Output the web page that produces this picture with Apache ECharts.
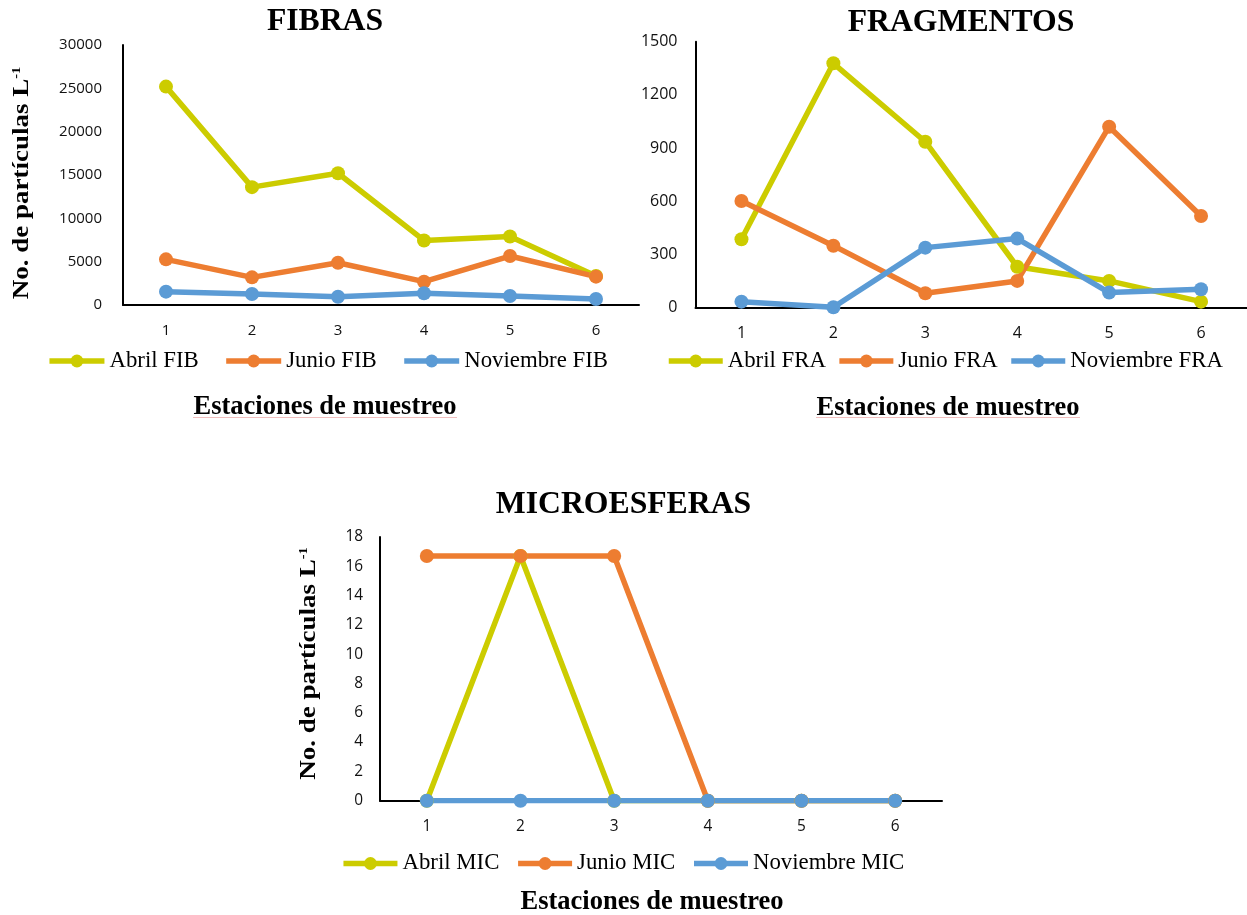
<!DOCTYPE html>
<html>
<head>
<meta charset="utf-8">
<title>Partículas por estación de muestreo</title>
<script src="https://cdn.jsdelivr.net/npm/echarts@6/dist/echarts.min.js"></script>
<style>
  html, body { margin: 0; padding: 0; background: #ffffff; }
  #chart { width: 1247px; height: 915px; }
</style>
</head>
<body>
<div id="chart"></div>
<script>
// Estaciones de muestreo (eje X compartido)
const stations = ['1', '2', '3', '4', '5', '6'];

// Fibras (partículas L-1)
const fibAbril = [25200, 13600, 15200, 7450, 7900, 3350];
const fibJunio = [5270, 3190, 4880, 2690, 5650, 3270];
const fibNoviembre = [1540, 1270, 960, 1350, 1040, 690];

// Fragmentos (partículas L-1)
const fraAbril = [384, 1378, 935, 229, 149, 32];
const fraJunio = [600, 348, 79, 149, 1020, 516];
const fraNoviembre = [32, 0, 337, 388, 83, 102];

// Microesferas (partículas L-1)
const micAbril = [0, 16.7, 0, 0, 0, 0];
const micJunio = [16.7, 16.7, 16.7, 0, 0, 0];
const micNoviembre = [0, 0, 0, 0, 0, 0];

// Nombres de las series
const fibNames = ['Abril FIB', 'Junio FIB', 'Noviembre FIB'];
const fraNames = ['Abril FRA', 'Junio FRA', 'Noviembre FRA'];
const micNames = ['Abril MIC', 'Junio MIC', 'Noviembre MIC'];

// Escalas del eje Y
const fibScale = { min: 0, max: 30000, interval: 5000 };
const fraScale = { min: 0, max: 1500, interval: 300 };
const micScale = { min: 0, max: 18, interval: 2 };

const titles = ['FIBRAS', 'FRAGMENTOS', 'MICROESFERAS'];
const xTitle = 'Estaciones de muestreo';

const monthColors = ['#CCCC00', '#ED7D31', '#5B9BD5'];
const SERIF = '"Liberation Serif", "Times New Roman", serif';
const SANS = '"Open Sans", "Liberation Sans", sans-serif';
const LINE_W = 5.5;

function lineSeries(name, data, color, axisIndex) {
  return {
    type: 'line',
    name: name,
    data: data,
    xAxisIndex: axisIndex,
    yAxisIndex: axisIndex,
    symbol: 'circle',
    symbolSize: 14,
    showSymbol: true,
    lineStyle: { color: color, width: LINE_W },
    itemStyle: { color: color },
    emphasis: { disabled: true },
    animation: false
  };
}

function xAxisFor(gridIndex, fontSize) {
  return {
    type: 'category',
    gridIndex: gridIndex,
    data: stations,
    boundaryGap: true,
    axisTick: { show: false },
    axisLine: { show: true, lineStyle: { color: '#000', width: 2 } },
    axisLabel: { margin: 18, fontFamily: SANS, fontSize: fontSize, color: '#111' },
    splitLine: { show: false }
  };
}

function yAxisFor(gridIndex, scale, fontSize, margin) {
  return {
    type: 'value',
    gridIndex: gridIndex,
    min: scale.min,
    max: scale.max,
    interval: scale.interval,
    axisTick: { show: false },
    axisLine: { show: true, lineStyle: { color: '#000', width: 2 } },
    axisLabel: {
      margin: margin, fontFamily: SANS, fontSize: fontSize, color: '#111',
      formatter: function (v) { return String(v); }
    },
    splitLine: { show: false }
  };
}

function legendFor(names, left, top, itemWidth, itemGap) {
  return {
    data: names,
    left: left,
    top: top,
    padding: 0,
    orient: 'horizontal',
    itemWidth: itemWidth,
    itemHeight: 16,
    itemGap: itemGap,
    selectedMode: false,
    lineStyle: { width: LINE_W },
    textStyle: { fontFamily: SERIF, fontSize: 22.8, color: '#000' }
  };
}

function headText(text, x, y) {
  return {
    type: 'text', x: x, y: y, silent: true,
    style: {
      text: text, fontFamily: SERIF, fontWeight: 'bold', fontSize: 31.7,
      fill: '#000', align: 'center', verticalAlign: 'middle'
    }
  };
}

function axisTitle(x, y) {
  return {
    type: 'text', x: x, y: y, silent: true,
    style: {
      text: xTitle, fontFamily: SERIF, fontWeight: 'bold', fontSize: 26.5,
      fill: '#000', align: 'center', verticalAlign: 'middle'
    }
  };
}

function yTitle(x, y) {
  return {
    type: 'text', x: x, y: y, rotation: Math.PI / 2, scaleX: 1.2, silent: true,
    style: {
      text: '{m|No. de partículas L}{s|-1}',
      align: 'center', verticalAlign: 'middle',
      rich: {
        m: { fontFamily: SERIF, fontWeight: 'bold', fontSize: 22.5, fill: '#000' },
        s: { fontFamily: SERIF, fontWeight: 'bold', fontSize: 12, fill: '#000', verticalAlign: 'top' }
      }
    }
  };
}

function squiggle(x1, x2, y) {
  return {
    type: 'line', silent: true,
    shape: { x1: x1, y1: y, x2: x2, y2: y },
    style: { stroke: 'rgba(225, 110, 110, 0.45)', lineWidth: 1 }
  };
}

const chart = echarts.init(document.getElementById('chart'), null, { renderer: 'canvas' });

chart.setOption({
  backgroundColor: '#ffffff',
  animation: false,
  grid: [
    { left: 123, top: 45, width: 516, height: 260 },
    { left: 695.5, top: 41.7, width: 556, height: 265.6 },
    { left: 380, top: 537, width: 562, height: 263.7 }
  ],
  xAxis: [xAxisFor(0, 15), xAxisFor(1, 16), xAxisFor(2, 15.4)],
  yAxis: [
    yAxisFor(0, fibScale, 15, 21),
    yAxisFor(1, fraScale, 16, 18),
    yAxisFor(2, micScale, 15.4, 17)
  ],
  legend: [
    legendFor(fibNames, 46.7, 349.5, 55, 24.7),
    legendFor(fraNames, 666, 349.5, 54, 10.7),
    legendFor(micNames, 340.7, 852, 54, 16)
  ],
  series: [
    lineSeries(fibNames[0], fibAbril, monthColors[0], 0),
    lineSeries(fibNames[1], fibJunio, monthColors[1], 0),
    lineSeries(fibNames[2], fibNoviembre, monthColors[2], 0),
    lineSeries(fraNames[0], fraAbril, monthColors[0], 1),
    lineSeries(fraNames[1], fraJunio, monthColors[1], 1),
    lineSeries(fraNames[2], fraNoviembre, monthColors[2], 1),
    lineSeries(micNames[0], micAbril, monthColors[0], 2),
    lineSeries(micNames[1], micJunio, monthColors[1], 2),
    lineSeries(micNames[2], micNoviembre, monthColors[2], 2)
  ],
  graphic: [
    headText(titles[0], 325, 21.5),
    headText(titles[1], 961, 23),
    headText(titles[2], 623.5, 504.5),
    axisTitle(325, 407),
    axisTitle(948, 408),
    axisTitle(652, 902),
    squiggle(193, 457, 417.5),
    squiggle(816, 1080, 417.5),
    yTitle(22.5, 183),
    yTitle(309.5, 663.5)
  ]
});
</script>
</body>
</html>
